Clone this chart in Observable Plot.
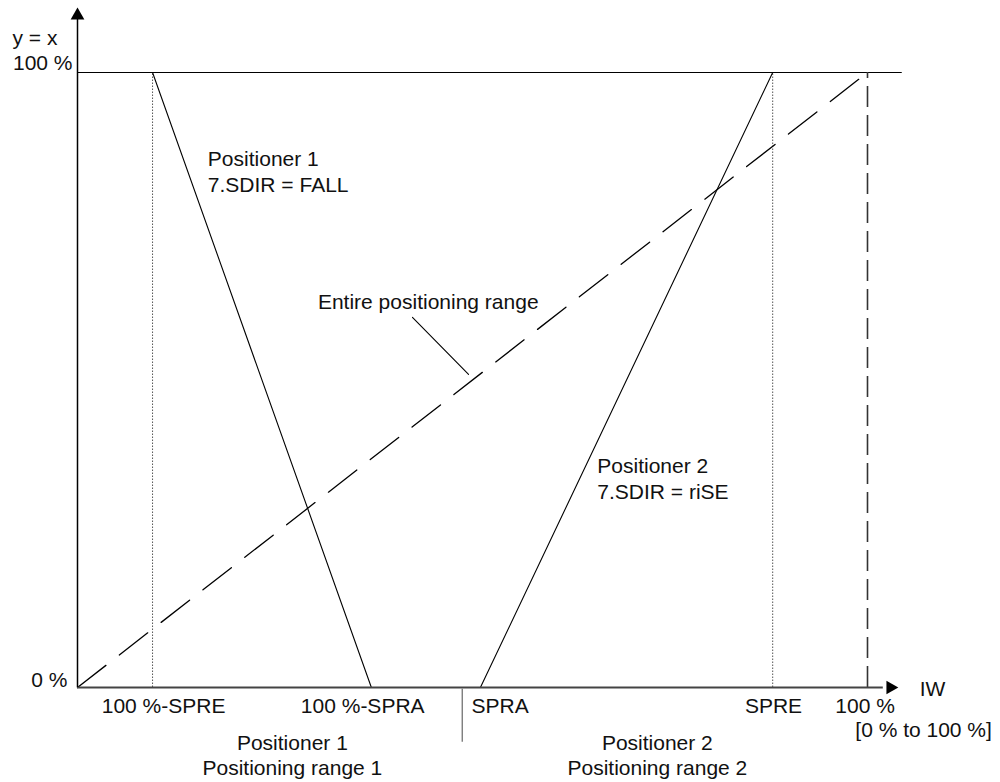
<!DOCTYPE html>
<html><head><meta charset="utf-8">
<script src="https://cdn.jsdelivr.net/npm/d3@7"></script>
<script src="https://cdn.jsdelivr.net/npm/@observablehq/plot@0.6"></script>
<style>body{margin:0;background:#fff}</style>
</head><body><div id="chart"></div>
<script>
// ---- data (in chart units: percent of input range / output) ----
const positioner1 = [{x: 9.5, y: 100}, {x: 37.2, y: 0}];
const positioner2 = [{x: 51.0, y: 0}, {x: 88.0, y: 100}];
const entireRange = [{x: 0, y: 0}, {x: 100, y: 100}];
const guideX = [9.5, 88.0];
const fullScaleX = [100];
const rangeDivider = [{x: 48.7, y1: -0.3, y2: -8.9}];
const xTickLabels = [
  {label: "100 %-SPRE", x: 10.9},
  {label: "100 %-SPRA", x: 36.1},
  {label: "SPRA", x: 53.5},
  {label: "SPRE", x: 88.1},
  {label: "100 %", x: 99.7}
];
const rangeLabels = [
  {x: 27.2, name: "Positioner 1", range: "Positioning range 1"},
  {x: 73.4, name: "Positioner 2", range: "Positioning range 2"}
];
const yLabelTop = ["y = x"];
const yLabelFull = ["100 %"];
const yLabelZero = ["0 %"];
const xAxisName = [{label: "IW", x: 106.6}];
const xAxisRange = [{label: "[0 % to 100 %]", x: 107.1}];
const annotations = [
  {text: "Positioner 1\n7.SDIR = FALL", x: 16.5, y: 84.1},
  {text: "Positioner 2\n7.SDIR = riSE", x: 65.8, y: 34.1}
];
const entireLabel = [{text: "Entire positioning range", x: 44.4, y: 62.6}];
const leader = [{x: 42.4, y: 60.2}, {x: 49.5, y: 50.9}];
const axisEnds = {xMax: 102, yMax: 108.6, topLineEnd: 104.4};
const arrowY = [{x: 0, y: 109.27}];
const arrowX = [{x: 102.9, y: 0}];

const font = 21;
const chart = Plot.plot({
  width: 1000,
  height: 782,
  marginLeft: 77, marginRight: 133, marginTop: 72, marginBottom: 95,
  x: {domain: [0, 100], range: [77, 867], axis: null},
  y: {domain: [0, 100], range: [687, 72], axis: null},
  style: {fontFamily: "'Liberation Sans', Arial, sans-serif", background: "#fff", color: "#111"},
  marks: [
    // top 100 % line
    Plot.ruleY([100], {x1: 0, x2: axisEnds.topLineEnd, stroke: "#000", strokeWidth: 1.1}),
    // dotted guides
    Plot.ruleX(guideX, {y1: 0, y2: 100, stroke: "#555", strokeWidth: 1, strokeDasharray: "1.5,1.5"}),
    // dashed full-scale guide
    Plot.ruleX(fullScaleX, {y1: 0, y2: 100, stroke: "#333", strokeWidth: 1.6, strokeDasharray: "21,8"}),
    // entire positioning range (dashed)
    Plot.line(entireRange, {x: "x", y: "y", stroke: "#000", strokeWidth: 1.3, strokeDasharray: "36,17"}),
    // positioners
    Plot.line(positioner1, {x: "x", y: "y", stroke: "#000", strokeWidth: 1.1}),
    Plot.line(positioner2, {x: "x", y: "y", stroke: "#000", strokeWidth: 1.1}),
    // leader
    Plot.line(leader, {x: "x", y: "y", stroke: "#000", strokeWidth: 1.1}),
    // axes
    Plot.ruleY([0], {x1: 0, x2: axisEnds.xMax, stroke: "#444", strokeWidth: 2}),
    Plot.ruleX([0], {y1: 0, y2: axisEnds.yMax, stroke: "#000", strokeWidth: 1.5}),
    Plot.dot(arrowY, {x: "x", y: "y", symbol: "triangle", r: 5.1, fill: "#000", stroke: null}),
    Plot.dot(arrowX, {x: "x", y: "y", symbol: "triangle", r: 5.1, fill: "#000", stroke: null, rotate: 90}),
    // range divider
    Plot.ruleX(rangeDivider, {x: "x", y1: "y1", y2: "y2", stroke: "#666", strokeWidth: 1.2}),
    // y labels
    Plot.text(yLabelTop, {x: 0, y: 100, text: d => d, dx: -65, dy: -34, textAnchor: "start", fontSize: font}),
    Plot.text(yLabelFull, {x: 0, y: 100, text: d => d, dx: -5, dy: -9, textAnchor: "end", fontSize: font}),
    Plot.text(yLabelZero, {x: 0, y: 0, text: d => d, dx: -10, dy: -7, textAnchor: "end", fontSize: font}),
    // x labels
    Plot.text(xTickLabels, {x: "x", y: 0, text: "label", dy: 19, fontSize: font}),
    Plot.text(xAxisName, {x: "x", y: 0, text: "label", dy: 2, textAnchor: "start", fontSize: font}),
    Plot.text(xAxisRange, {x: "x", y: 0, text: "label", dy: 43, fontSize: font}),
    Plot.text(rangeLabels, {x: "x", y: 0, text: "name", dy: 56, fontSize: font}),
    Plot.text(rangeLabels, {x: "x", y: 0, text: "range", dy: 81, fontSize: font}),
    // annotations
    Plot.text(annotations, {x: "x", y: "y", text: "text", textAnchor: "start", lineHeight: 1.24, fontSize: font}),
    Plot.text(entireLabel, {x: "x", y: "y", text: "text", fontSize: font})
  ]
});
document.getElementById("chart").appendChild(chart);
</script>
</body></html>
